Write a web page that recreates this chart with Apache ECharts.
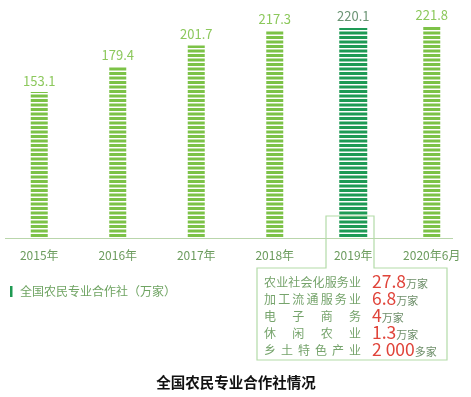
<!DOCTYPE html>
<html><head><meta charset="utf-8">
<script src="https://cdn.jsdelivr.net/npm/echarts@6/dist/echarts.min.js"></script>
<style>html,body{margin:0;padding:0;background:#fff}#c{width:471px;height:397px}</style>
</head><body><div id="c"></div>
<script>
const categories = ['2015年','2016年','2017年','2018年','2019年','2020年6月'];
const values = [153.1,179.4,201.7,217.3,220.1,221.8];
const highlightIndex = 4;
const boxLabels = ['农业社会化服务业','加工流通服务业','电子商务','休闲农业','乡土特色产业'];
const boxValues = ['27.8','6.8','4','1.3','2 000'];
const boxUnits = ['万家','万家','万家','万家','多家'];
const legendText = '全国农民专业合作社（万家）';
const titleText = '全国农民专业合作社情况';

const FONT = '"Noto Sans CJK SC", "Noto Sans", sans-serif';
function stripe(color){
  const c=document.createElement('canvas'); c.width=4; c.height=9;
  const g=c.getContext('2d'); g.fillStyle=color; g.fillRect(0,0,4,3); g.fillRect(0,4.5,4,3);
  return {image:c, repeat:'repeat'};
}
const lightData = values.map((v,i)=> i===highlightIndex ? '-' : v);
const darkData = values.map((v,i)=> i===highlightIndex ? v : '-');

const graphic = [];
// baseline
graphic.push({type:'line', shape:{x1:5,y1:238.5,x2:453,y2:238.5}, style:{stroke:'#b9d6ab', lineWidth:1}, z:10});
// annotation box
graphic.push({type:'polygon', shape:{points:[[326,216],[374,216],[374,268],[447,268],[447,360],[257,360],[257,268],[326,268]]}, style:{fill:null, stroke:'#b3dba8', lineWidth:1.2}, z:10});
// legend
graphic.push({type:'rect', shape:{x:10,y:286,width:2.5,height:11}, style:{fill:'#1f9a52'}});
graphic.push({type:'text', x:20, y:291.5, style:{text:legendText, font:'12px '+FONT, fill:'#6fa462', verticalAlign:'middle'}});
// title
graphic.push({type:'text', x:236, y:382, style:{text:titleText, font:'bold 14.5px '+FONT, fill:'#111', align:'center', verticalAlign:'middle'}});
// box rows
const left=264, right=361, cw=12;
boxLabels.forEach((lab,r)=>{
  const y=282+r*17;
  const chars=[...lab]; const n=chars.length; const step=(right-cw-left)/(n-1);
  chars.forEach((ch,i)=>{
    graphic.push({type:'text', x:left+i*step, y:y, style:{text:ch, font:'12px '+FONT, fill:'#76a46c', verticalAlign:'middle'}});
  });
  graphic.push({type:'text', x:372, y:y+8, style:{
    text:'{v|'+boxValues[r]+'}{u|'+boxUnits[r]+'}', verticalAlign:'bottom',
    rich:{v:{fontSize:17.5, fontFamily:FONT, fill:'#e0443a', color:'#e0443a', lineHeight:18, verticalAlign:'bottom'},
          u:{fontSize:11, fontFamily:FONT, color:'#6e8f6a', fill:'#6e8f6a', lineHeight:13, verticalAlign:'bottom', padding:[0,0,1,0]}}
  }});
});

const chart = echarts.init(document.getElementById('c'), null, {renderer:'canvas'});
chart.setOption({
  animation:false,
  grid:{left:-9, right:0, top:9, bottom:158.5},
  xAxis:[
    {type:'category', data:categories, axisLine:{show:false}, axisTick:{show:false},
     axisLabel:{color:'#6c9c5e', fontSize:12, fontFamily:FONT, margin:11, interval:0}},
    {type:'category', data:categories, show:false}
  ],
  yAxis:{type:'value', min:0, max:240, show:false, splitLine:{show:false}},
  series:[
    {type:'bar', xAxisIndex:0, data:lightData, barWidth:17, itemStyle:{color:stripe('#7cc247')},
     label:{show:true, position:'top', distance:5, color:'#8cc85c', fontSize:13, fontFamily:FONT, formatter:p=>p.value.toFixed(1)}},
    {type:'bar', xAxisIndex:1, data:darkData, barWidth:28, itemStyle:{color:stripe('#1e9a55')},
     label:{show:true, position:'top', distance:5, color:'#6a9474', fontSize:13, fontFamily:FONT, formatter:p=>p.value.toFixed(1)}}
  ],
  graphic:graphic
});
</script></body></html>
